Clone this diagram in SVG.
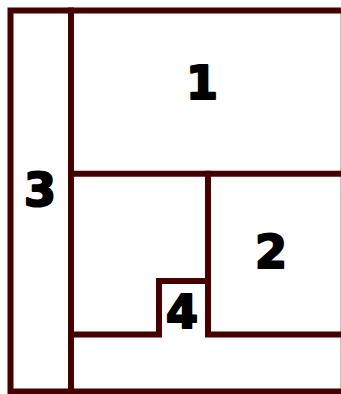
<svg xmlns="http://www.w3.org/2000/svg" width="341" height="394" viewBox="0 0 341 394">
<style>
.w{stroke:#470000;stroke-width:6;fill:none;stroke-linecap:square}
.t{font-family:"DejaVu Sans",sans-serif;font-weight:bold;font-size:46px;fill:#000;stroke:#000;stroke-width:2.2;stroke-linejoin:round;text-anchor:middle}
</style>
<rect width="341" height="394" fill="#fff"/>
<g id="connectors">
<line x1="340.5" y1="10" x2="340.5" y2="394" stroke="#d9b9b9" stroke-width="1"/>
<path class="w" d="M341 10.5H10.5V391.5H341"/>
<path class="w" d="M71 10.5V391.5"/>
<path class="w" d="M71 173.7H341"/>
<path class="w" d="M208 173.7V334.5H341"/>
<path class="w" d="M71 334.5H159V281H208"/>
</g>
<g id="n1"><text class="t" x="202" y="99">1</text></g>
<g id="n2"><text class="t" x="271" y="268">2</text></g>
<g id="n3"><text class="t" x="40" y="206">3</text></g>
<g id="n4"><text class="t" x="182" y="328">4</text></g>
</svg>
